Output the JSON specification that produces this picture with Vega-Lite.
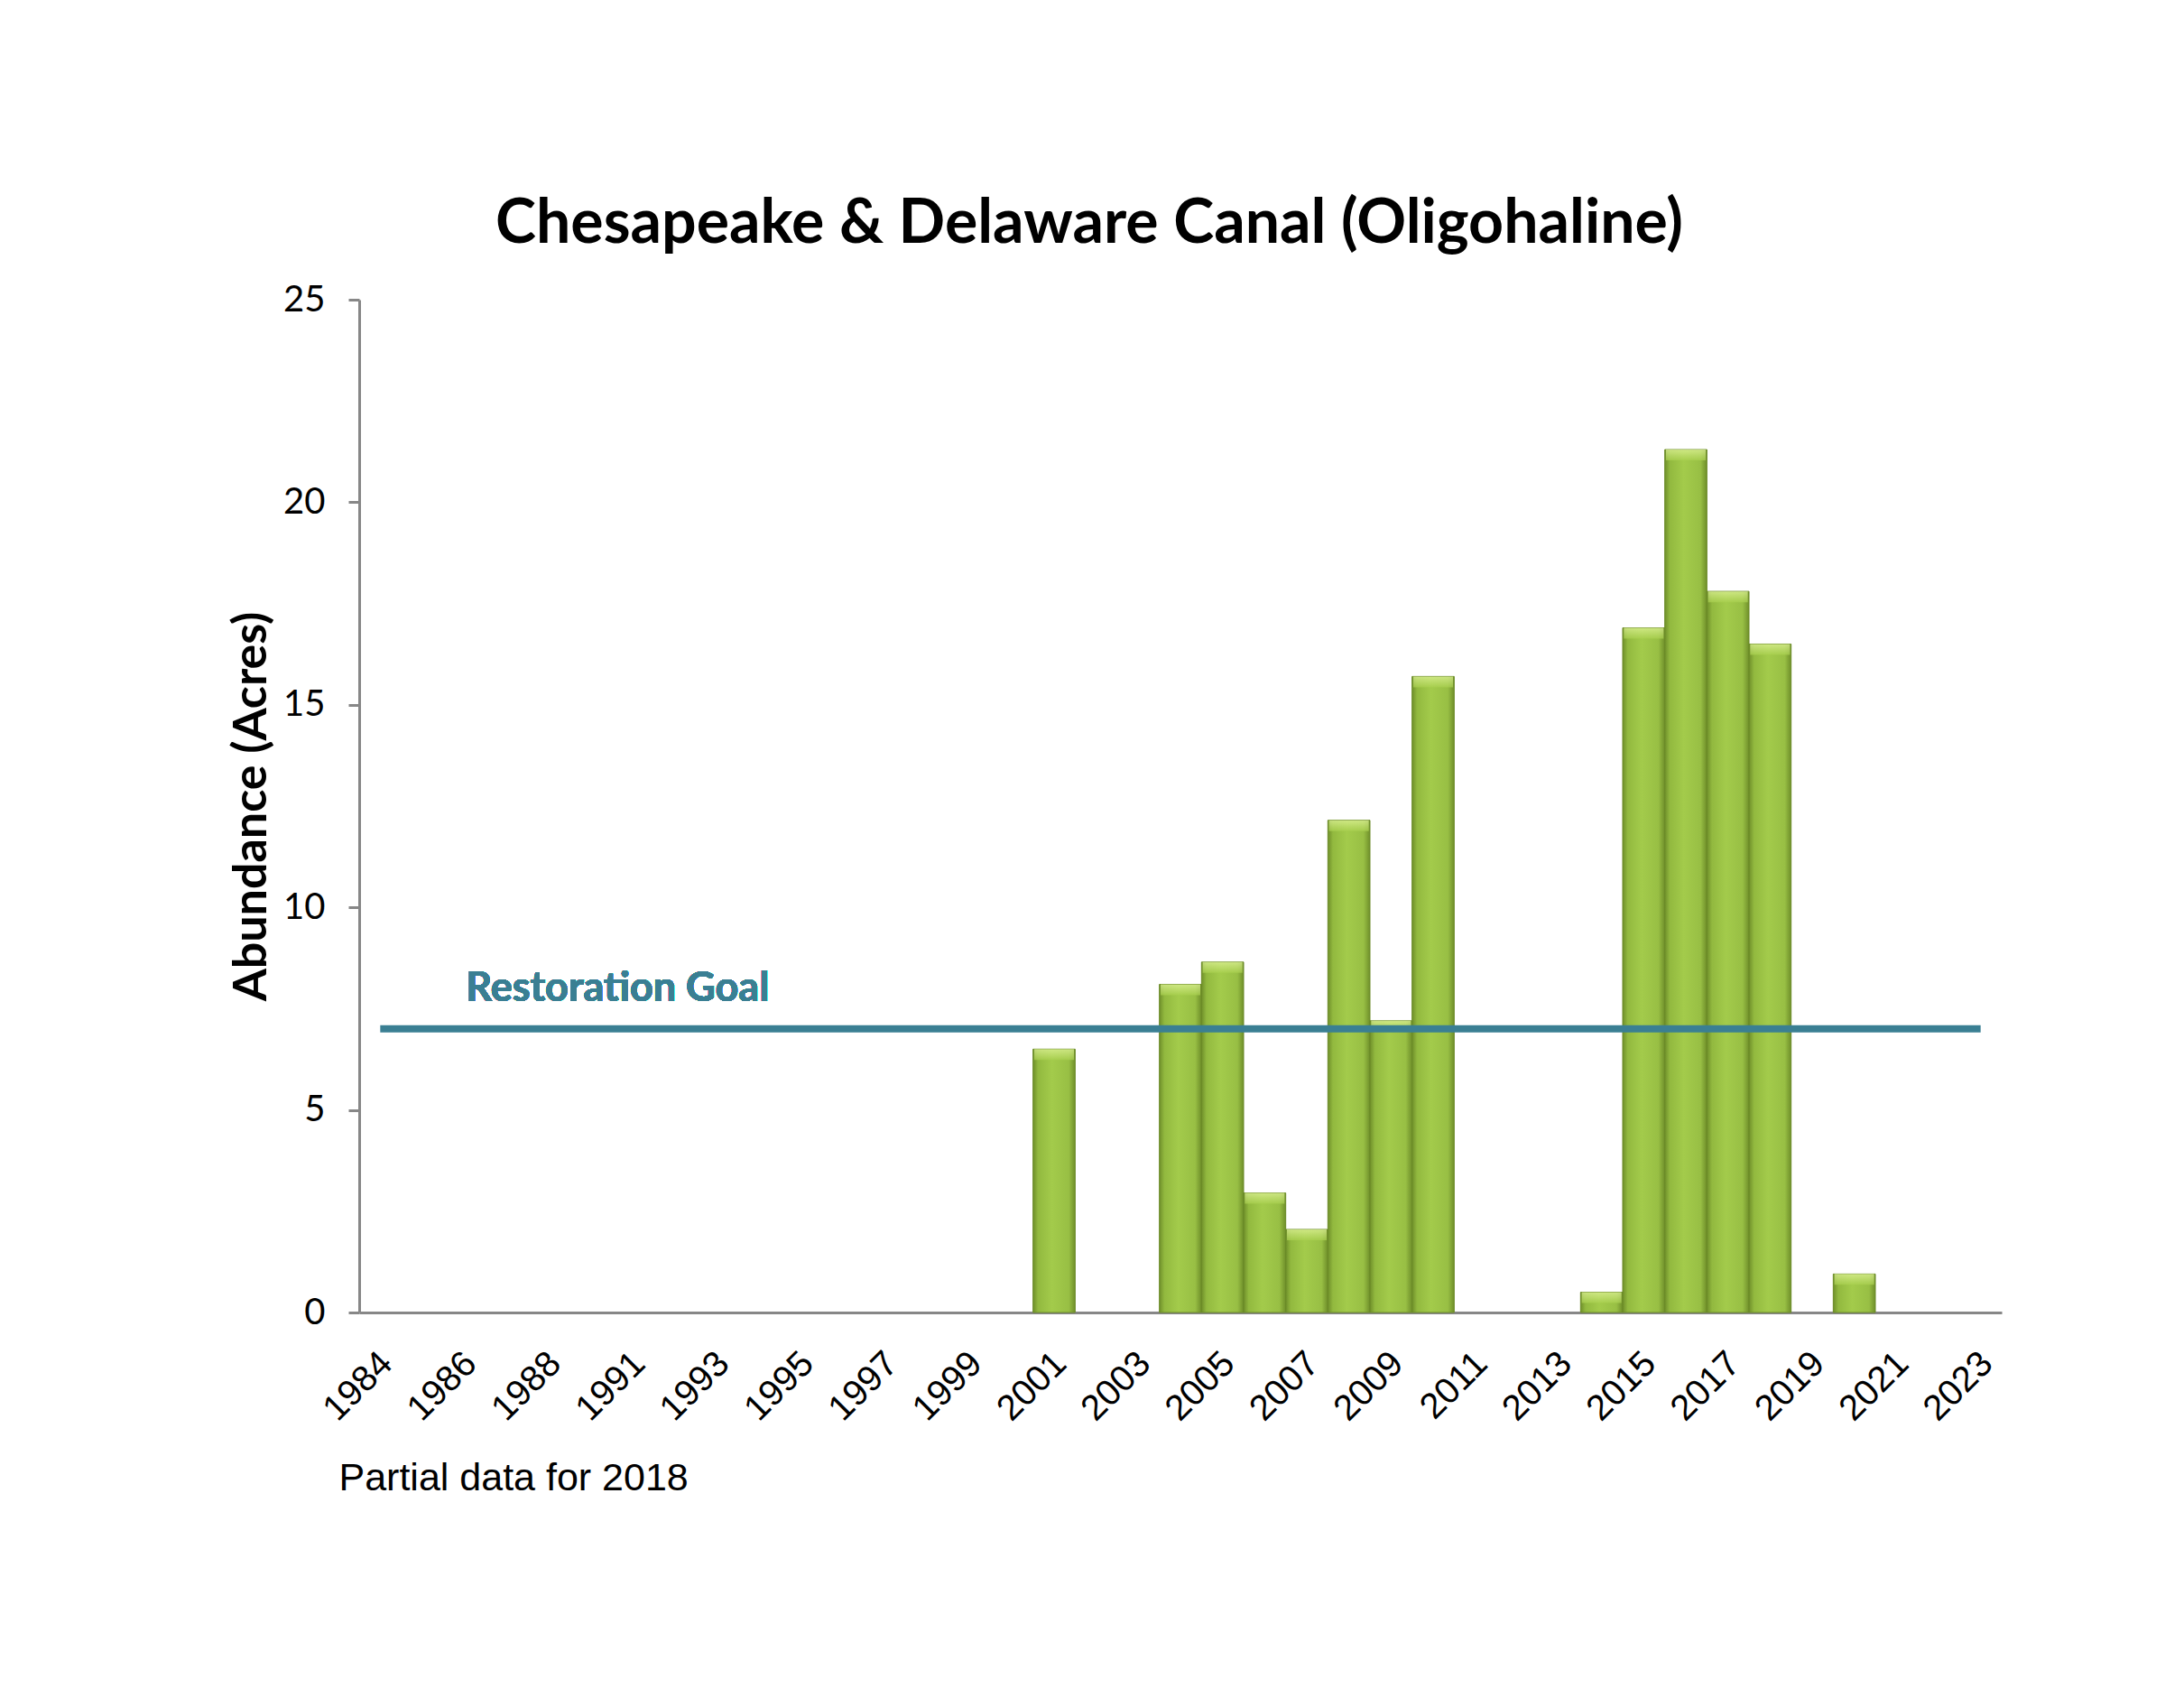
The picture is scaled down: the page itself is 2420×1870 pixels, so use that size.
{
  "$schema": "https://vega.github.io/schema/vega-lite/v6.json",
  "width": 1820,
  "height": 1122,
  "autosize": {"type": "none"},
  "padding": {"left": 398, "top": 332, "right": 202, "bottom": 416},
  "background": "white",
  "title": {
    "text": "Chesapeake & Delaware Canal (Oligohaline)",
    "anchor": "middle",
    "frame": "group",
    "dx": -101,
    "offset": 29,
    "font": "Lato",
    "fontSize": 68,
    "fontWeight": "bold",
    "color": "#000000"
  },
  "config": {
    "view": {"stroke": null},
    "axis": {"grid": false}
  },
  "data": {
    "values": [
      {"year": "1984", "acres": null, "goal": 7},
      {"year": "1985", "acres": null, "goal": 7},
      {"year": "1986", "acres": null, "goal": 7},
      {"year": "1987", "acres": null, "goal": 7},
      {"year": "1988", "acres": null, "goal": 7},
      {"year": "1989", "acres": null, "goal": 7},
      {"year": "1991", "acres": null, "goal": 7},
      {"year": "1992", "acres": null, "goal": 7},
      {"year": "1993", "acres": null, "goal": 7},
      {"year": "1994", "acres": null, "goal": 7},
      {"year": "1995", "acres": null, "goal": 7},
      {"year": "1996", "acres": null, "goal": 7},
      {"year": "1997", "acres": null, "goal": 7},
      {"year": "1998", "acres": null, "goal": 7},
      {"year": "1999", "acres": null, "goal": 7},
      {"year": "2000", "acres": null, "goal": 7},
      {"year": "2001", "acres": 6.5, "goal": 7},
      {"year": "2002", "acres": null, "goal": 7},
      {"year": "2003", "acres": null, "goal": 7},
      {"year": "2004", "acres": 8.1, "goal": 7},
      {"year": "2005", "acres": 8.65, "goal": 7},
      {"year": "2006", "acres": 2.95, "goal": 7},
      {"year": "2007", "acres": 2.05, "goal": 7},
      {"year": "2008", "acres": 12.15, "goal": 7},
      {"year": "2009", "acres": 7.2, "goal": 7},
      {"year": "2010", "acres": 15.7, "goal": 7},
      {"year": "2011", "acres": null, "goal": 7},
      {"year": "2012", "acres": null, "goal": 7},
      {"year": "2013", "acres": null, "goal": 7},
      {"year": "2014", "acres": 0.5, "goal": 7},
      {"year": "2015", "acres": 16.9, "goal": 7},
      {"year": "2016", "acres": 21.3, "goal": 7},
      {"year": "2017", "acres": 17.8, "goal": 7},
      {"year": "2018", "acres": 16.5, "goal": 7},
      {"year": "2019", "acres": null, "goal": 7},
      {"year": "2020", "acres": 0.95, "goal": 7},
      {"year": "2021", "acres": null, "goal": 7},
      {"year": "2022", "acres": null, "goal": 7},
      {"year": "2023", "acres": null, "goal": 7}
    ]
  },
  "encoding": {
    "x": {
      "field": "year",
      "type": "ordinal",
      "sort": null,
      "scale": {
        "domain": ["1984","1985","1986","1987","1988","1989","1991","1992","1993","1994","1995","1996","1997","1998","1999","2000","2001","2002","2003","2004","2005","2006","2007","2008","2009","2010","2011","2012","2013","2014","2015","2016","2017","2018","2019","2020","2021","2022","2023"],
        "paddingInner": 0,
        "paddingOuter": 0
      },
      "axis": {
        "title": "Partial data for 2018",
        "titleFont": "Liberation Sans",
        "titleFontSize": 43,
        "titleFontWeight": "normal",
        "titleColor": "#000000",
        "titleAnchor": "start",
        "titleAlign": "left",
        "titleBaseline": "middle",
        "titleX": -23,
        "titleY": 183,
        "values": ["1984","1986","1988","1991","1993","1995","1997","1999","2001","2003","2005","2007","2009","2011","2013","2015","2017","2019","2021","2023"],
        "labelAngle": -45,
        "labelAlign": "right",
        "labelBaseline": "top",
        "labelFont": "Liberation Sans",
        "labelFontSize": 40,
        "labelColor": "#000000",
        "labelPadding": 36,
        "labelOffset": -7,
        "ticks": false,
        "domainColor": "#878787",
        "domainWidth": 3
      }
    }
  },
  "layer": [
    {
      "mark": {
        "type": "bar",
        "stroke": "#6a8a26",
        "strokeWidth": 1,
        "color": {
          "gradient": "linear",
          "x1": 0, "y1": 0, "x2": 1, "y2": 0,
          "stops": [
            {"offset": 0, "color": "#6f8f2a"},
            {"offset": 0.12, "color": "#92b93f"},
            {"offset": 0.45, "color": "#a3cb4b"},
            {"offset": 0.85, "color": "#98bf44"},
            {"offset": 1, "color": "#6f8f2a"}
          ]
        }
      },
      "encoding": {
        "y": {
          "field": "acres",
          "type": "quantitative",
          "scale": {"domain": [0, 25], "nice": false},
          "axis": {
            "title": "Abundance (Acres)",
            "titleFont": "Lato",
            "titleFontSize": 52,
            "titleFontWeight": "bold",
            "titleColor": "#000000",
            "titleAngle": -90,
            "titleAlign": "center",
            "titleBaseline": "middle",
            "titleX": -120,
            "titleY": 561,
            "values": [0, 5, 10, 15, 20, 25],
            "labelFont": "Lato",
            "labelFontSize": 40,
            "labelColor": "#000000",
            "labelPadding": 26,
            "tickSize": 12,
            "tickWidth": 3,
            "tickColor": "#878787",
            "domainColor": "#878787",
            "domainWidth": 3
          }
        }
      }
    },
    {
      "mark": {
        "type": "tick",
        "size": 44,
        "thickness": 12,
        "yOffset": 6,
        "color": {
          "gradient": "linear",
          "x1": 0, "y1": 0, "x2": 0, "y2": 1,
          "stops": [
            {"offset": 0, "color": "#e2f59c"},
            {"offset": 1, "color": "#a9d04f"}
          ]
        }
      },
      "encoding": {
        "y": {"field": "acres", "type": "quantitative"}
      }
    },
    {
      "mark": {"type": "line", "color": "#3a7f93", "strokeWidth": 8},
      "encoding": {
        "y": {"field": "goal", "type": "quantitative"}
      }
    },
    {
      "mark": {
        "type": "text",
        "text": "Restoration Goal",
        "font": "Lato",
        "fontSize": 45,
        "fontWeight": "bold",
        "color": "#3a7f93",
        "align": "center",
        "baseline": "middle",
        "dx": -17
      },
      "encoding": {
        "x": {"datum": "1991"},
        "y": {"datum": 8}
      }
    }
  ]
}
